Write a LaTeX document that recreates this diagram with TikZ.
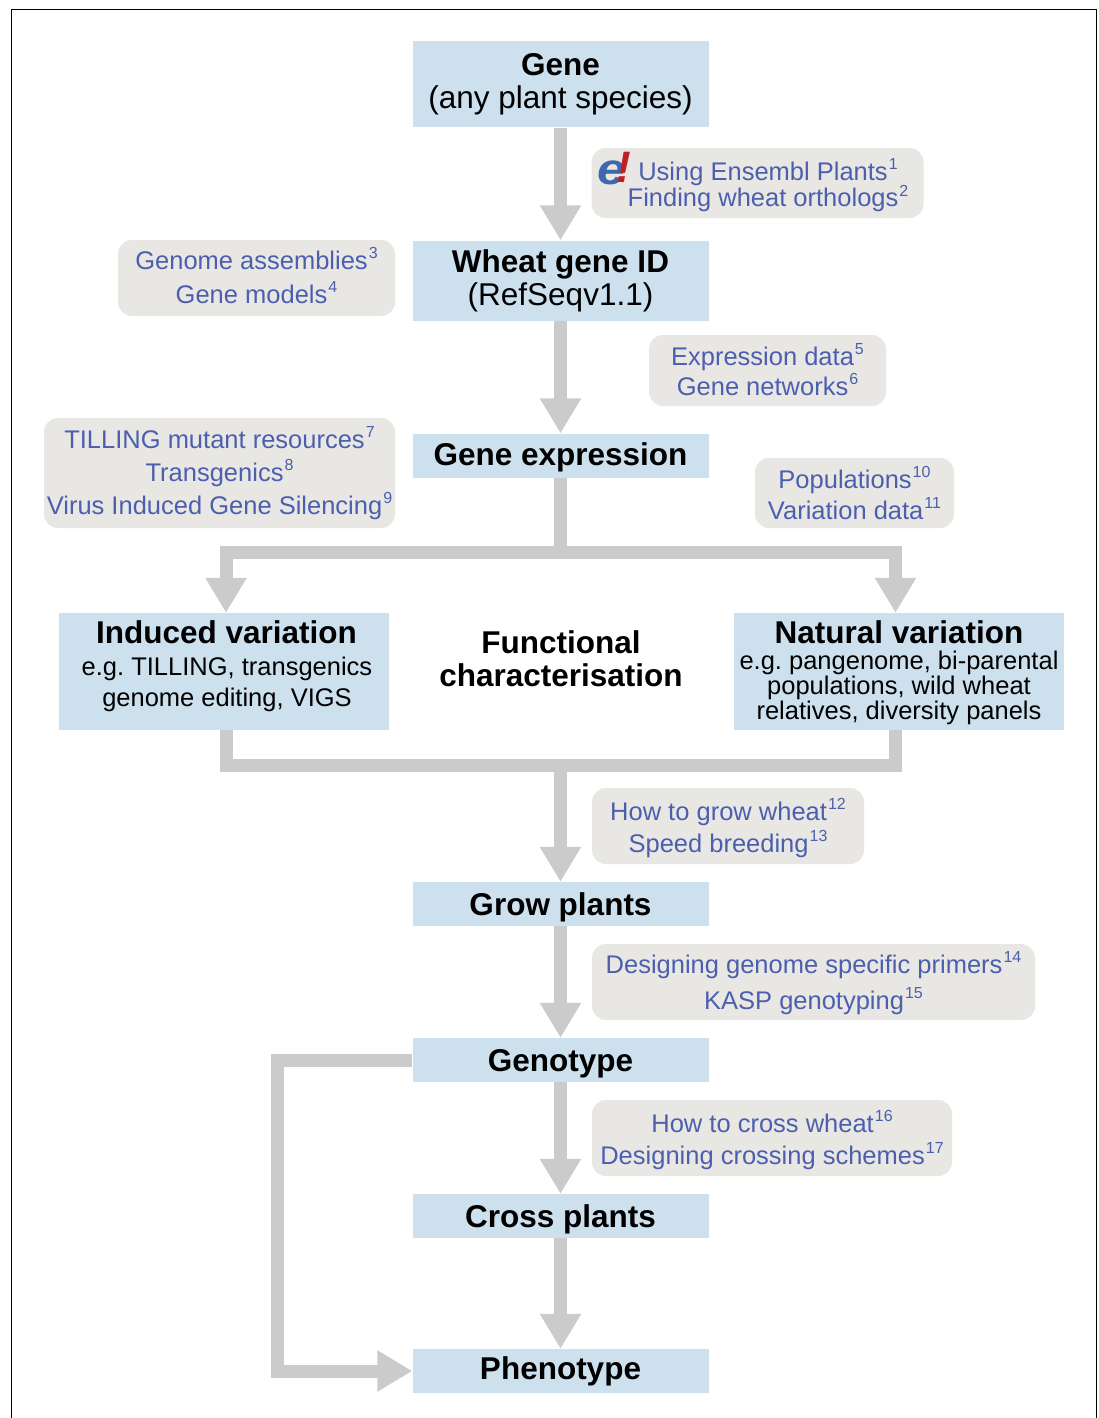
\documentclass[tikz,border=0pt]{standalone}
\usepackage{fontspec}
\setmainfont{Liberation Sans}
\usetikzlibrary{arrows.meta}
\definecolor{boxblue}{HTML}{CDE0EE}
\definecolor{flowgray}{HTML}{CBCBCB}
\definecolor{notegray}{HTML}{E8E7E3}
\definecolor{linkblue}{HTML}{4C5FAF}
\definecolor{logoblue}{HTML}{3F68AC}
\definecolor{logored}{HTML}{BE2026}
\newcommand{\supnum}[1]{\smash{\raisebox{0.42em}{\fontsize{16}{16}\selectfont\kern1pt #1}}}
\newcommand{\hd}{\fontsize{31.5}{33}\selectfont\bfseries}
\newcommand{\tx}{\fontsize{25.5}{25}\selectfont}
\newcommand{\topstrut}[1]{\rule{0pt}{#1pt}}
\frenchspacing
\tikzset{
  x=1pt,y=-1pt,
  stepbox/.style={fill=boxblue,inner sep=0pt,align=center,text=black,font=\fontsize{31.5}{33}\selectfont},
  notebox/.style={fill=notegray,rounded corners=14pt,inner sep=0pt,align=center,text=linkblue},
  flow/.style={draw=flowgray,line width=13pt},
  flowhead/.style={draw=flowgray,line width=13pt,-{Triangle[width=39pt,length=35pt,color=flowgray]}},
}
\begin{document}
\begin{tikzpicture}
\useasboundingbox (0,0) rectangle (1099,1418);
\fill[white] (0,0) rectangle (1099,1418);
\draw[black,line width=1.2pt] (11.5,1418) -- (11.5,9.5) -- (1096.5,9.5) -- (1096.5,1418);

% steps
\node[stepbox,minimum width=296pt,minimum height=86pt] (gene) at (560.5,84.5) {{\bfseries Gene}\\(any plant species)};
\node[stepbox,minimum width=296pt,minimum height=80pt] (wheat) at (560.5,280.5) {{\bfseries Wheat gene ID}\\(RefSeqv1.1)};
\node[stepbox,minimum width=296pt,minimum height=44pt,text height=23pt,text depth=3pt] (expr) at (560.5,455.5) {\bfseries Gene expression};
\node[stepbox,minimum width=330pt,minimum height=117pt,font=\tx] (induced) at (224,671.5) {\topstrut{13}\smash{\hspace*{5pt}\hd Induced variation}\\[7pt]\hspace*{6pt}e.g. TILLING, transgenics\\[6pt]\hspace*{6pt}genome editing, VIGS};
\node[stepbox,minimum width=330pt,minimum height=117pt,font=\tx] (natural) at (899,671.5) {\topstrut{26}{\hd Natural variation}\\[1pt]e.g. pangenome, bi-parental\\populations, wild wheat\\relatives, diversity panels};
\node[align=center,inner sep=0pt,font=\hd] (func) at (561,659) {Functional\\characterisation};
\node[stepbox,minimum width=296pt,minimum height=44pt,text height=23pt,text depth=1pt] (grow) at (560.5,904) {\bfseries Grow plants};
\node[stepbox,minimum width=296pt,minimum height=44pt,text height=24pt,text depth=1pt] (geno) at (560.5,1060) {\bfseries Genotype};
\node[stepbox,minimum width=296pt,minimum height=44pt,text height=23pt,text depth=1pt] (cross) at (560.5,1216) {\bfseries Cross plants};
\node[stepbox,minimum width=296pt,minimum height=44pt] (pheno) at (560.5,1371) {\bfseries Phenotype};

% notes
\node[notebox,minimum width=332pt,minimum height=70pt,font=\fontsize{25.5}{26.5}\selectfont] (n1) at (757.5,183) {\topstrut{26.6}\hspace*{21pt}Using Ensembl Plants\supnum{1}\\\hspace*{21pt}Finding wheat orthologs\supnum{2}};
\node[inner sep=0pt,font=\fontsize{44}{44}\selectfont\bfseries\itshape] (logo) at (614.5,169) {\textcolor{logoblue}{\scalebox{1.15}[1]{e}}\kern-9pt\textcolor{logored}{\raisebox{2pt}{!}}};
\node[notebox,minimum width=277pt,minimum height=76pt,font=\fontsize{25.5}{34}\selectfont] (n2) at (256.5,278) {Genome assemblies\supnum{3}\\Gene models\supnum{4}\rule[-2pt]{0pt}{0pt}};
\node[notebox,minimum width=237pt,minimum height=71pt,font=\fontsize{25.5}{30}\selectfont] (n3) at (767.5,370.5) {\topstrut{20.6}Expression data\supnum{5}\\Gene networks\supnum{6}};
\node[notebox,minimum width=351pt,minimum height=110pt,font=\fontsize{25.5}{33}\selectfont] (n4) at (219.5,473) {\topstrut{22.6}TILLING mutant resources\supnum{7}\\Transgenics\supnum{8}\\Virus Induced Gene Silencing\supnum{9}};
\node[notebox,minimum width=199pt,minimum height=70pt,font=\fontsize{25.5}{31}\selectfont] (n5) at (854.5,493) {\topstrut{22.6}Populations\supnum{10}\\Variation data\supnum{11}};
\node[notebox,minimum width=272pt,minimum height=76pt,font=\fontsize{25.5}{32}\selectfont] (n6) at (728,826) {\topstrut{25.6}How to grow wheat\supnum{12}\\Speed breeding\supnum{13}};
\node[notebox,minimum width=443pt,minimum height=76pt,font=\fontsize{25.5}{36}\selectfont] (n7) at (813.5,982) {\topstrut{24.6}Designing genome specific primers\supnum{14}\\KASP genotyping\supnum{15}};
\node[notebox,minimum width=360pt,minimum height=76pt,font=\fontsize{25.5}{32}\selectfont] (n8) at (772,1138) {\topstrut{25.6}How to cross wheat\supnum{16}\\Designing crossing schemes\supnum{17}};

% junction points
\coordinate (splitc) at (560.5,552);
\coordinate (splitl) at (226,552);
\coordinate (splitr) at (895.5,552);
\coordinate (joinl) at (226,765);
\coordinate (joinr) at (895.5,765);
\coordinate (joinc) at (560.5,765);
\coordinate (fbtop) at (277.5,1060);
\coordinate (fbbot) at (277.5,1371);

% connectors
\draw[flowhead] (gene.south) -- (wheat.north);
\draw[flowhead] (wheat.south) -- (expr.north);
\draw[flow] (expr.south) -- (splitc);
\draw[flowhead] ([xshift=-6.5pt]splitc) -- (splitl) -- (splitl |- induced.north);
\draw[flowhead] ([xshift=-6.5pt]splitc) -- (splitr) -- (splitr |- natural.north);
\draw[flow,line join=miter] (joinl |- induced.south) -- (joinl) -- (joinr) -- (joinr |- natural.south);
\draw[flowhead] (joinc) -- (grow.north);
\draw[flowhead] (grow.south) -- (geno.north);
\draw[flowhead] (geno.south) -- (cross.north);
\draw[flowhead] (cross.south) -- (pheno.north);
\draw[flowhead] (geno.west) -- (fbtop) -- (fbbot) -- (pheno.west);
\end{tikzpicture}
\end{document}
